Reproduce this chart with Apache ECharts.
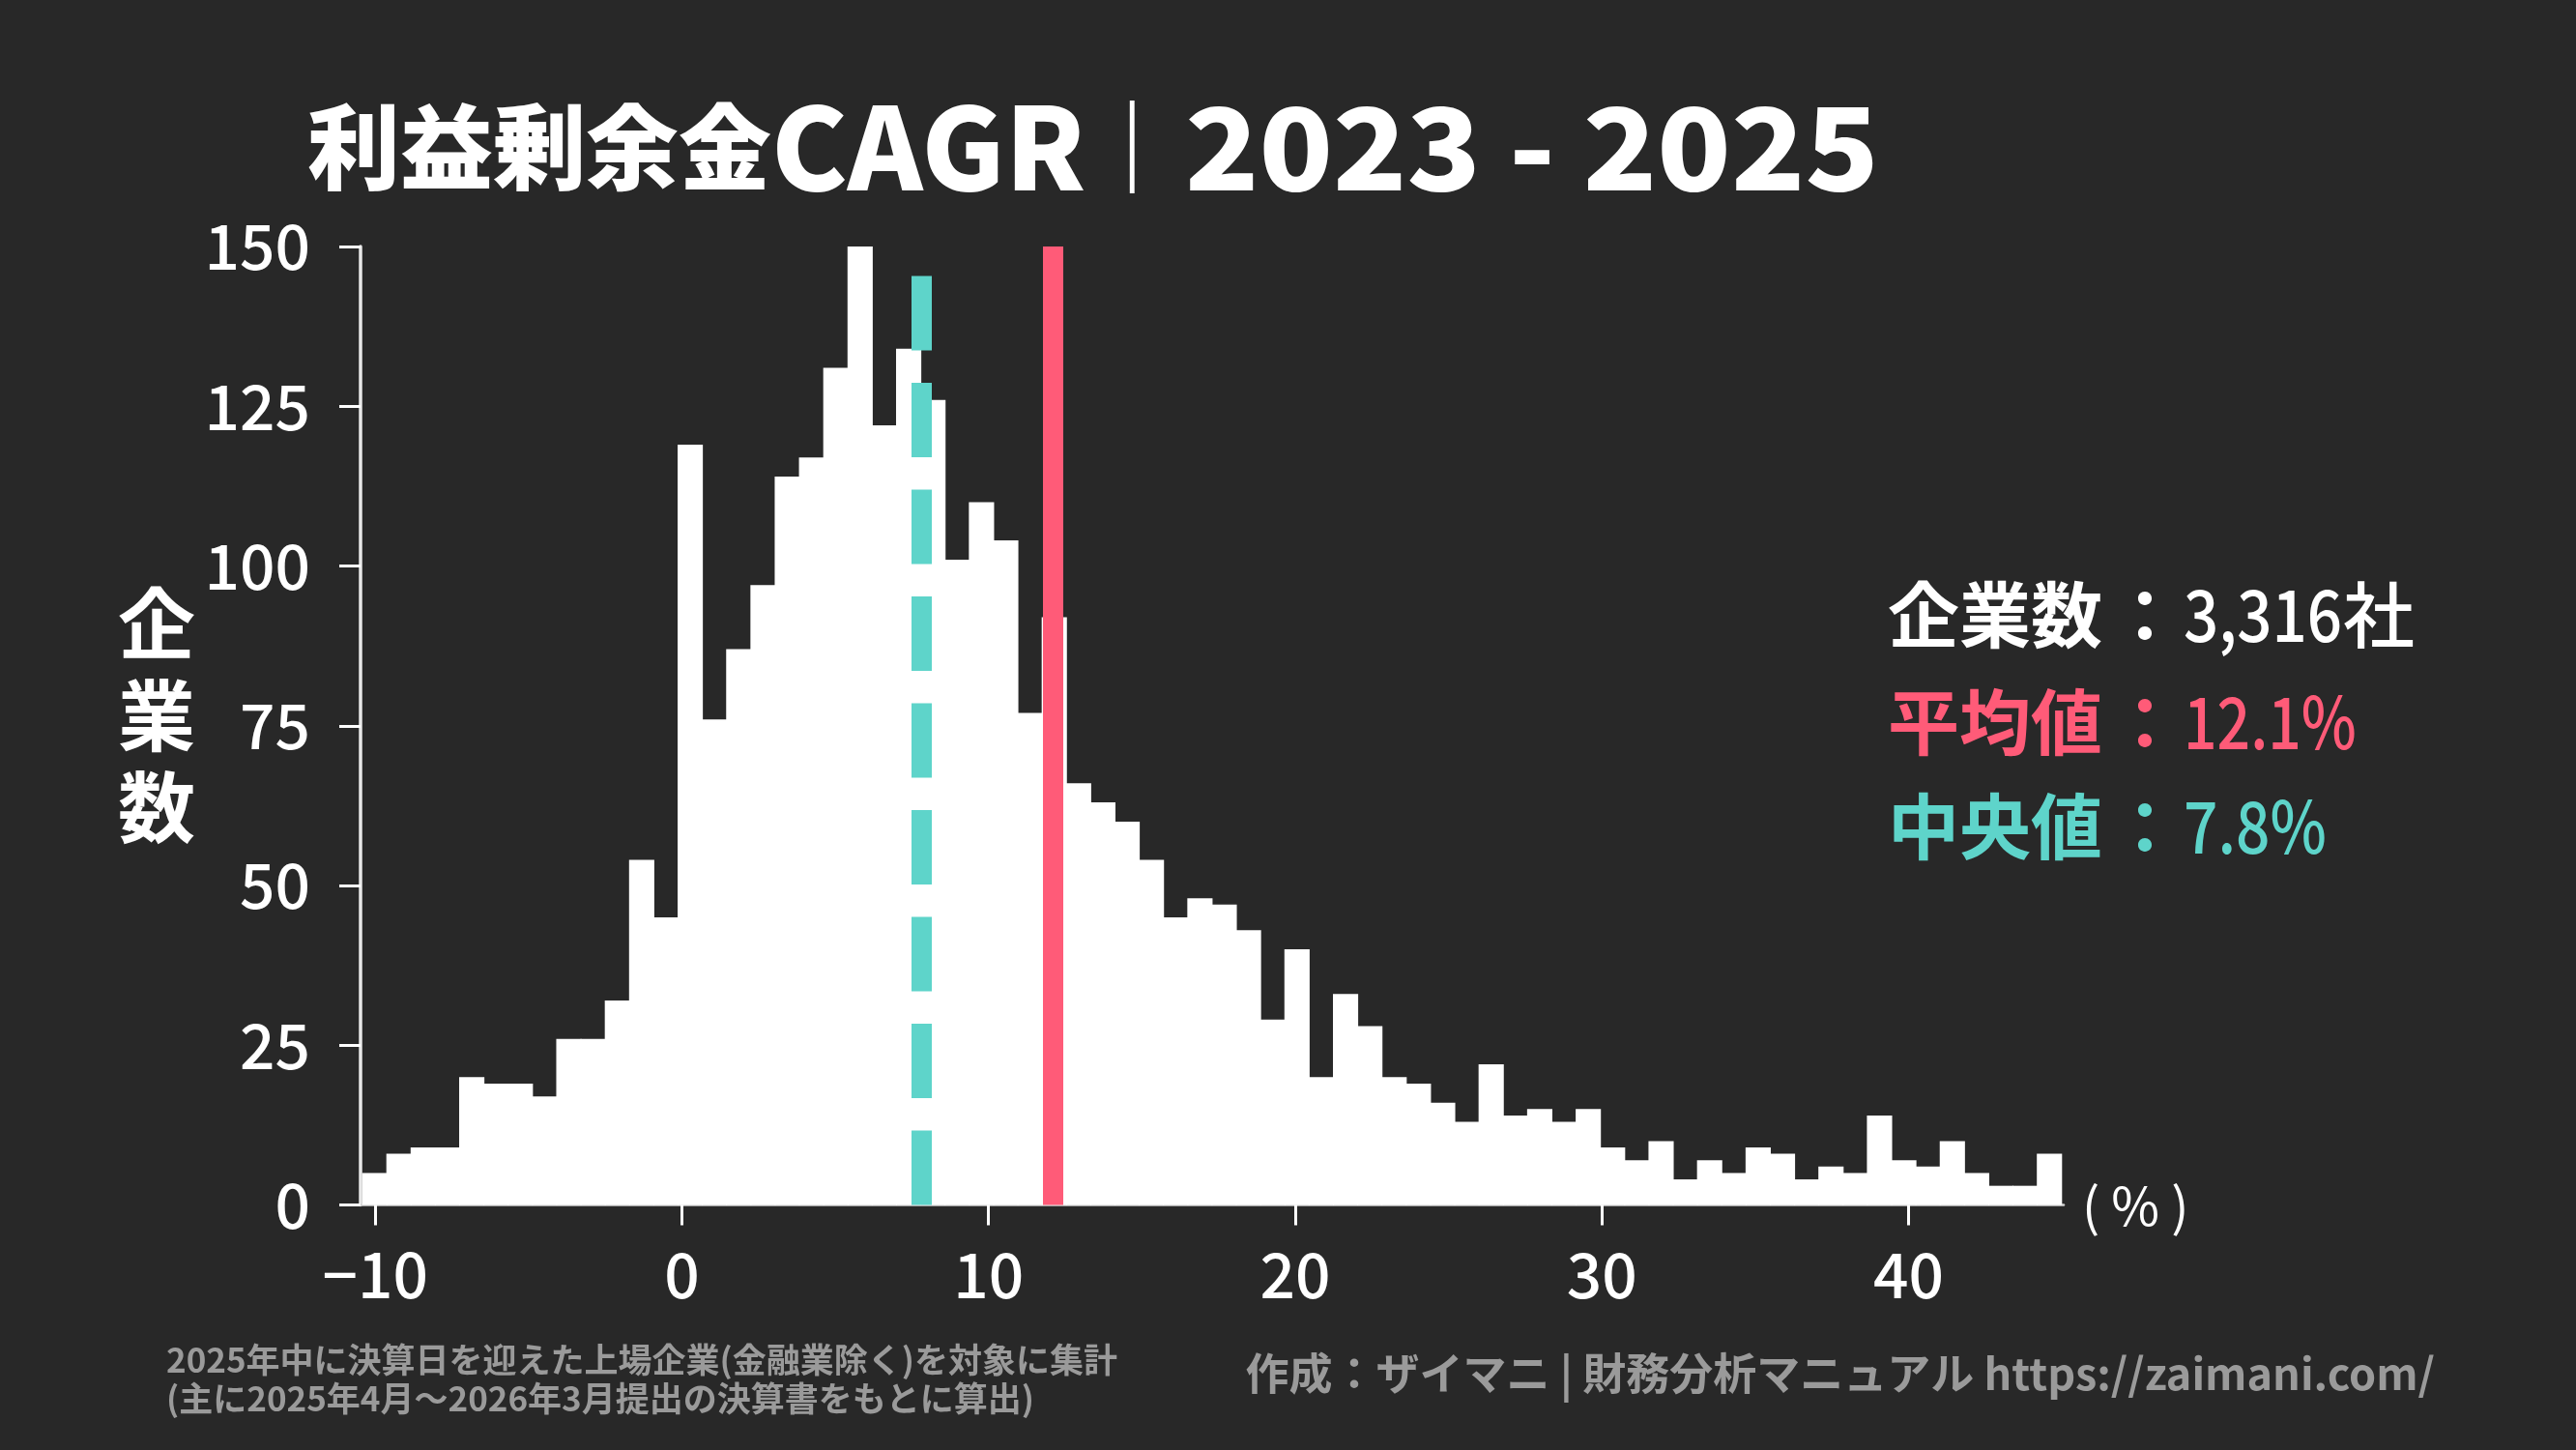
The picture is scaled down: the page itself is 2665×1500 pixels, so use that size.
<!DOCTYPE html>
<html>
<head>
<meta charset="utf-8">
<title>利益剰余金CAGR｜2023 - 2025</title>
<script src="https://cdn.jsdelivr.net/npm/echarts@6/dist/echarts.min.js"></script>
<style>
html,body{margin:0;padding:0;background:#282828;}
#chart{width:2665px;height:1500px;}
</style>
</head>
<body>
<div id="chart"></div>
<script>
// histogram bins (CAGR %, bin width ~0.79)
var BIN_START = -10.43;
var BIN_WIDTH = 0.7915;
var counts = [
    5, 8, 9, 9, 20, 19, 19, 17, 26, 26,
    32, 54, 45, 119, 76, 87, 97, 114, 117, 131,
    150, 122, 134, 126, 101, 110, 104, 77, 92, 66,
    63, 60, 54, 45, 48, 47, 43, 29, 40, 20,
    33, 28, 20, 19, 16, 13, 22, 14, 15, 13,
    15, 9, 7, 10, 4, 7, 5, 9, 8, 4,
    6, 5, 14, 7, 6, 10, 5, 3, 3, 8
];
var X_TICKS = [-10, 0, 10, 20, 30, 40];
var X_MIN = -10.48;
var X_MAX = 45.06;
var Y_MAX = 150;
var MEAN = 12.1;
var MEDIAN = 7.8;
var TOTAL = '3,316';

var FONT = "'Noto Sans CJK JP', 'Noto Sans', sans-serif";
var RED = '#ff5b78';
var TEAL = '#5ed4ca';
var GRAY = '#9a9a9a';

var bins = counts.map(function (c, i) {
    var s = BIN_START + i * BIN_WIDTH;
    return [s, s + BIN_WIDTH, c];
});

// label / colon / number, numbers are drawn a bit narrower like the original
function statLine(y, label, num, unit, color, sx) {
    var items = [
        {type: 'text', x: 1953, y: y, style: {text: label, fill: color, font: 'bold 74px ' + FONT, textVerticalAlign: 'middle'}},
        {type: 'text', x: 2219, y: y, style: {text: '：', fill: color, font: 'bold 74px ' + FONT, textAlign: 'center', textVerticalAlign: 'middle'}},
        {type: 'text', x: 2259, y: y, scaleX: sx, style: {text: num, fill: color, font: '500 74px ' + FONT, textVerticalAlign: 'middle'}}
    ];
    if (unit) {
        items.push({type: 'text', x: 2424, y: y, style: {text: unit, fill: color, font: '500 74px ' + FONT, textVerticalAlign: 'middle'}});
    }
    return items;
}

var chart = echarts.init(document.getElementById('chart'));

var option = {
    backgroundColor: '#282828',
    animation: false,
    grid: {left: 373, right: 530, top: 255, bottom: 253.5},
    xAxis: {
        type: 'value',
        min: X_MIN,
        max: X_MAX,
        splitLine: {show: false},
        axisLine: {show: true, onZero: false, lineStyle: {color: '#d0d0d0', width: 2.5}},
        axisTick: {show: true, customValues: X_TICKS, length: 21, lineStyle: {color: '#ffffff', width: 3}},
        axisLabel: {
            customValues: X_TICKS,
            margin: 40,
            color: '#ffffff',
            fontSize: 64,
            fontFamily: FONT,
            fontWeight: 500,
            formatter: function (v) { return v < 0 ? '\u2212' + Math.abs(v) : String(v); }
        }
    },
    yAxis: {
        type: 'value',
        min: 0,
        max: Y_MAX,
        interval: 25,
        splitLine: {show: false},
        axisLine: {show: true, onZero: false, lineStyle: {color: '#e8e8e8', width: 3.5}},
        axisTick: {show: true, length: 22, lineStyle: {color: '#ffffff', width: 3}},
        axisLabel: {
            margin: 52,
            color: '#ffffff',
            fontSize: 64,
            fontFamily: FONT,
            fontWeight: 500
        }
    },
    series: [
        {
            type: 'custom',
            data: bins,
            encode: {x: [0, 1], y: 2},
            renderItem: function (params, api) {
                var p0 = api.coord([api.value(0), api.value(2)]);
                var p1 = api.coord([api.value(1), 0]);
                return {
                    type: 'rect',
                    shape: {x: p0[0], y: p0[1], width: p1[0] - p0[0] + 1, height: p1[1] - p0[1]},
                    style: {fill: '#ffffff'}
                };
            }
        },
        {
            type: 'line',
            data: [],
            markLine: {
                silent: true,
                symbol: ['none', 'none'],
                label: {show: false},
                data: [
                    [{coord: [MEDIAN, 0], lineStyle: {color: TEAL, width: 21, type: [77, 33.5], dashOffset: 0, cap: 'butt'}},
                     {coord: [MEDIAN, Y_MAX]}],
                    [{coord: [MEAN, 0], lineStyle: {color: RED, width: 21, type: 'solid', cap: 'butt'}},
                     {coord: [MEAN, Y_MAX]}]
                ]
            }
        }
    ],
    graphic: [
        {
            type: 'text', x: 318, y: 152,
            style: {
                text: '{c|利益剰余金}{l|CAGR}{c|｜}',
                textVerticalAlign: 'middle',
                rich: {
                    c: {fill: '#ffffff', font: '900 96px ' + FONT},
                    l: {fill: '#ffffff', font: '900 118px ' + FONT}
                }
            }
        },
        {
            type: 'text', x: 1226, y: 152, scaleX: 1.065,
            style: {
                text: '2023 - 2025',
                fill: '#ffffff',
                font: '900 118px ' + FONT,
                textVerticalAlign: 'middle'
            }
        },
        {
            type: 'text', x: 162, y: 740,
            style: {
                text: '企\n業\n数',
                fill: '#ffffff',
                font: 'bold 80px ' + FONT,
                lineHeight: 95,
                textAlign: 'center',
                textVerticalAlign: 'middle'
            }
        }
    ]
    .concat(statLine(636, '企業数', TOTAL, '社', '#ffffff', 0.86))
    .concat(statLine(747, '平均値', MEAN + '%', '', RED, 0.82))
    .concat(statLine(855, '中央値', MEDIAN + '%', '', TEAL, 0.84))
    .concat([
        {
            type: 'text', x: 2154, y: 1247,
            style: {
                text: '( % )',
                fill: '#ffffff',
                font: '400 54px ' + FONT,
                textVerticalAlign: 'middle'
            }
        },
        {
            type: 'text', x: 172, y: 1407,
            style: {
                text: '2025年中に決算日を迎えた上場企業(金融業除く)を対象に集計',
                fill: GRAY,
                font: 'bold 35px ' + FONT,
                textVerticalAlign: 'middle'
            }
        },
        {
            type: 'text', x: 172, y: 1447,
            style: {
                text: '(主に2025年4月～2026年3月提出の決算書をもとに算出)',
                fill: GRAY,
                font: 'bold 35px ' + FONT,
                textVerticalAlign: 'middle'
            }
        },
        {
            type: 'text', x: 2519, y: 1421,
            style: {
                text: '作成：ザイマニ | 財務分析マニュアル https://zaimani.com/',
                fill: GRAY,
                font: 'bold 45px ' + FONT,
                textAlign: 'right',
                textVerticalAlign: 'middle'
            }
        }
    ])
};

chart.setOption(option);
</script>
</body>
</html>
